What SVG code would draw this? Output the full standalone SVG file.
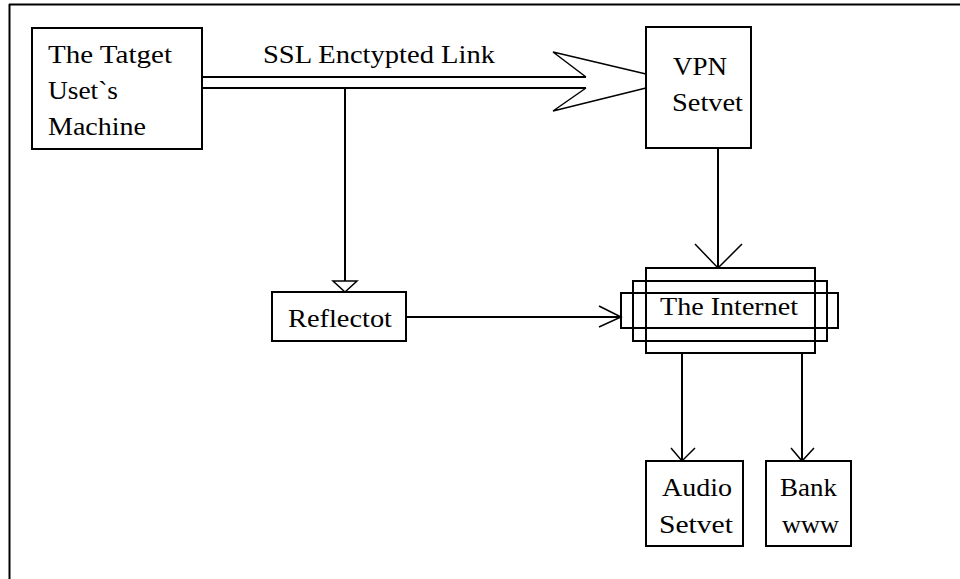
<svg xmlns="http://www.w3.org/2000/svg" width="960" height="579" viewBox="0 0 960 579">
<style>
.box{fill:#fff;stroke:#000;stroke-width:2}
.ln{fill:none;stroke:#000;stroke-width:2}
.thin{fill:none;stroke:#000;stroke-width:1.5}
text{font-family:"Liberation Serif","DejaVu Serif",serif;font-size:26px;fill:#000}
</style>
<rect width="960" height="579" fill="#fff"/>
<g id="frame">
<line class="ln" x1="9" y1="4.5" x2="960" y2="4.5"/>
<line class="ln" x1="9.5" y1="4" x2="9.5" y2="579"/>
</g>
<g id="connectors">
<line class="ln" x1="202" y1="77" x2="586" y2="77"/>
<line class="ln" x1="202" y1="88" x2="586" y2="88"/>
<polyline class="thin" points="586,77 553,52 646,74"/>
<polyline class="thin" points="586,88 553,111 646,88"/>
<text x="263" y="63" textLength="232" lengthAdjust="spacingAndGlyphs">SSL Enctypted Link</text>
<line class="ln" x1="345" y1="88" x2="345" y2="281"/>
<polygon class="thin" fill="#fff" points="333,281 357,281 345,292"/>
<line class="ln" x1="718" y1="148" x2="718" y2="268"/>
<polyline class="thin" points="695,244 718,268 742,244"/>
<line class="ln" x1="406" y1="317" x2="621" y2="317"/>
<polyline class="thin" points="599,306 621,317 599,327"/>
<line class="ln" x1="682" y1="353" x2="682" y2="461"/>
<polyline class="thin" points="671,448 682,461 695,448"/>
<line class="ln" x1="802" y1="353" x2="802" y2="461"/>
<polyline class="thin" points="791,448 802,461 814,448"/>
</g>
<g id="target">
<rect class="box" x="32" y="28" width="170" height="121"/>
<text x="48" y="63" textLength="124" lengthAdjust="spacingAndGlyphs">The Tatget</text>
<text x="48" y="99" textLength="70" lengthAdjust="spacingAndGlyphs">Uset`s</text>
<text x="48" y="135" textLength="98" lengthAdjust="spacingAndGlyphs">Machine</text>
</g>
<g id="vpn">
<rect class="box" x="646" y="27" width="105" height="121"/>
<text x="673" y="75" textLength="54" lengthAdjust="spacingAndGlyphs">VPN</text>
<text x="672" y="111" textLength="71" lengthAdjust="spacingAndGlyphs">Setvet</text>
</g>
<g id="reflector">
<rect class="box" x="272" y="292" width="134" height="49"/>
<text x="288" y="327" textLength="104" lengthAdjust="spacingAndGlyphs">Reflectot</text>
</g>
<g id="internet">
<rect class="ln" x="646" y="268" width="169" height="85"/>
<rect class="ln" x="633" y="281" width="194" height="60"/>
<rect class="ln" x="621" y="293" width="217" height="35"/>
<text x="660" y="315" textLength="138" lengthAdjust="spacingAndGlyphs">The Internet</text>
</g>
<g id="audio">
<rect class="box" x="646" y="461" width="97" height="85"/>
<text x="662" y="496" textLength="70" lengthAdjust="spacingAndGlyphs">Audio</text>
<text x="659" y="533" textLength="74" lengthAdjust="spacingAndGlyphs">Setvet</text>
</g>
<g id="bank">
<rect class="box" x="766" y="461" width="85" height="85"/>
<text x="780" y="496" textLength="57" lengthAdjust="spacingAndGlyphs">Bank</text>
<text x="782" y="533" textLength="57" lengthAdjust="spacingAndGlyphs">www</text>
</g>
</svg>
